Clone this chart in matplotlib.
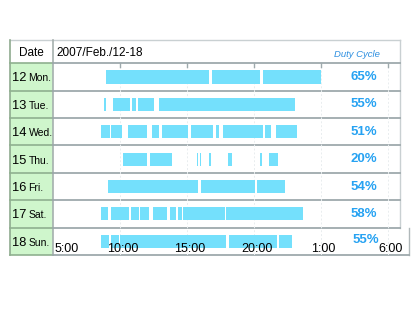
import matplotlib.pyplot as plt

plt.rcParams['font.family'] = ['Liberation Sans', 'DejaVu Sans']

# --- data ---
title = '2007/Feb./12-18'
day_numbers = ['12', '13', '14', '15', '16', '17', '18']
day_names = ['Mon.', 'Tue.', 'Wed.', 'Thu.', 'Fri.', 'Sat.', 'Sun.']
duty_cycle = ['65%', '55%', '51%', '20%', '54%', '58%', '55%']

# on-periods per day as (start, end) in hours from midnight (past 24 = next day)
mon = [(8.95, 16.65), (16.9, 20.45), (20.7, 25.0)]
tue = [(8.77, 8.92), (9.43, 10.74), (10.85, 11.22), (11.3, 12.53), (12.87, 13.92),
       (13.99, 23.08)]
wed = [(8.57, 9.24), (9.32, 10.12), (10.61, 11.99), (12.4, 12.91), (13.15, 15.1),
       (15.3, 16.98), (17.17, 17.36), (17.69, 20.65), (20.83, 21.28), (21.65, 23.26)]
thu = [(10.19, 11.99), (12.23, 13.9), (15.77, 15.85), (15.95, 16.03), (16.68, 16.8),
       (18.1, 18.37), (20.47, 20.61), (21.14, 21.77)]
fri = [(9.11, 15.85), (16.05, 20.09), (20.21, 22.33)]
sat = [(8.57, 9.09), (9.28, 10.66), (10.81, 11.41), (11.52, 12.16), (12.42, 13.54),
       (13.73, 14.21), (14.33, 14.59), (14.7, 17.85), (17.95, 23.67)]
sun = [(8.57, 9.2), (9.35, 9.88), (9.99, 17.92), (18.14, 21.73), (21.88, 22.85)]
periods = [mon, tue, wed, thu, fri, sat, sun]

tick_hours = [5, 10, 15, 20, 25, 30]
tick_labels = ['5:00', '10:00', '15:00', '20:00', '1:00', '6:00']

# --- layout (pixels) ---
W, H = 414, 310
left, col, right = 10, 53.3, 400
top, head, bottom = 40, 63.3, 255
px_per_hour = 13.37
bar_color = '#74e0fc'
pct_color = '#26a2f2'
line_gray = '#9ea9ac'

fig = plt.figure(figsize=(W / 100, H / 100), dpi=100)
bg = fig.add_axes([0, 0, 1, 1])
bg.set_xlim(0, W)
bg.set_ylim(H, 0)
bg.axis('off')

n = len(day_names)
row_h = (bottom - head) / n

# date column cells
for i in range(n):
    y0 = head + i * row_h
    bg.add_patch(plt.Rectangle((left, y0), col - left, row_h, facecolor='#cff6cc',
                               edgecolor='none', zorder=1))
# frame lines
bg.plot([left, right], [top, top], color='#c9d0d2', lw=1.0, zorder=2)
bg.plot([right, right], [top, bottom - row_h], color='#c9d0d2', lw=1.0, zorder=2)
bg.plot([right + 9, right + 9], [bottom - row_h, bottom], color='#b0b8ba', lw=1.0, zorder=2)
bg.plot([left, left], [top, bottom], color='#8faa8f', lw=1.2, zorder=2)
bg.plot([col, col], [top, bottom], color='#a6b0ae', lw=1.2, zorder=2)
for i in range(n + 1):
    y = head + i * row_h
    bg.plot([left, col], [y, y], color='#8fb08f', lw=1.2, zorder=2)
    bg.plot([col, right + (9 if i == n else 0)], [y, y], color=line_gray, lw=1.3, zorder=2)

bg.text((left + col) / 2, (top + head) / 2 + 1, 'Date', ha='center', va='center',
        fontsize=8.5, zorder=3)
bg.text(col + 3, (top + head) / 2 + 1, title, ha='left', va='center', fontsize=8.5, zorder=3)
bg.text(357, (top + head) / 2 + 3, 'Duty Cycle', ha='center', va='center',
        fontsize=6.8, style='italic', color='#2d8fe0', zorder=3)

for i in range(n):
    yb = head + (i + 0.5) * row_h + 4.5
    bg.text(12, yb, day_numbers[i], ha='left', va='baseline', fontsize=9.3, zorder=3)
    bg.text(28.5, yb, day_names[i], ha='left', va='baseline', fontsize=7.5, zorder=3)

# --- timeline axes ---
ax = fig.add_axes([col / W, 1 - bottom / H, (right - col) / W, (bottom - head) / H])
ax.patch.set_alpha(0)
ax.set_xlim(5, 5 + (right - col) / px_per_hour)
ax.set_ylim(n, 0)
ax.axis('off')

for h in tick_hours[1:]:
    ax.axvline(h, color='#e9edef', lw=0.7, ls=(0, (2, 2)), zorder=1)
    ax.plot([h, h], [0, 0.12], color='#9ea9ac', lw=1.0, zorder=2, clip_on=False)

for i, segs in enumerate(periods):
    ax.broken_barh([(s, e - s) for s, e in segs], (i + 0.26, 0.48),
                   facecolors=bar_color, edgecolor='none', zorder=3)
    dy = -0.05 if i == n - 1 else 0.0
    dx = 0.2 if i == n - 1 else 0.0
    ax.text(28.2 + dx, i + 0.5 + dy, duty_cycle[i], ha='center', va='center',
            fontsize=9.5, fontweight='bold', color=pct_color, zorder=4)

for h, lab in zip(tick_hours, tick_labels):
    if h == tick_hours[0]:
        ax.text(h + 0.1, n - 0.22, lab, ha='left', va='center', fontsize=9, zorder=4)
    else:
        ax.text(h + 0.2, n - 0.22, lab, ha='center', va='center', fontsize=9, zorder=4)

fig.savefig('out.png', dpi=100)
